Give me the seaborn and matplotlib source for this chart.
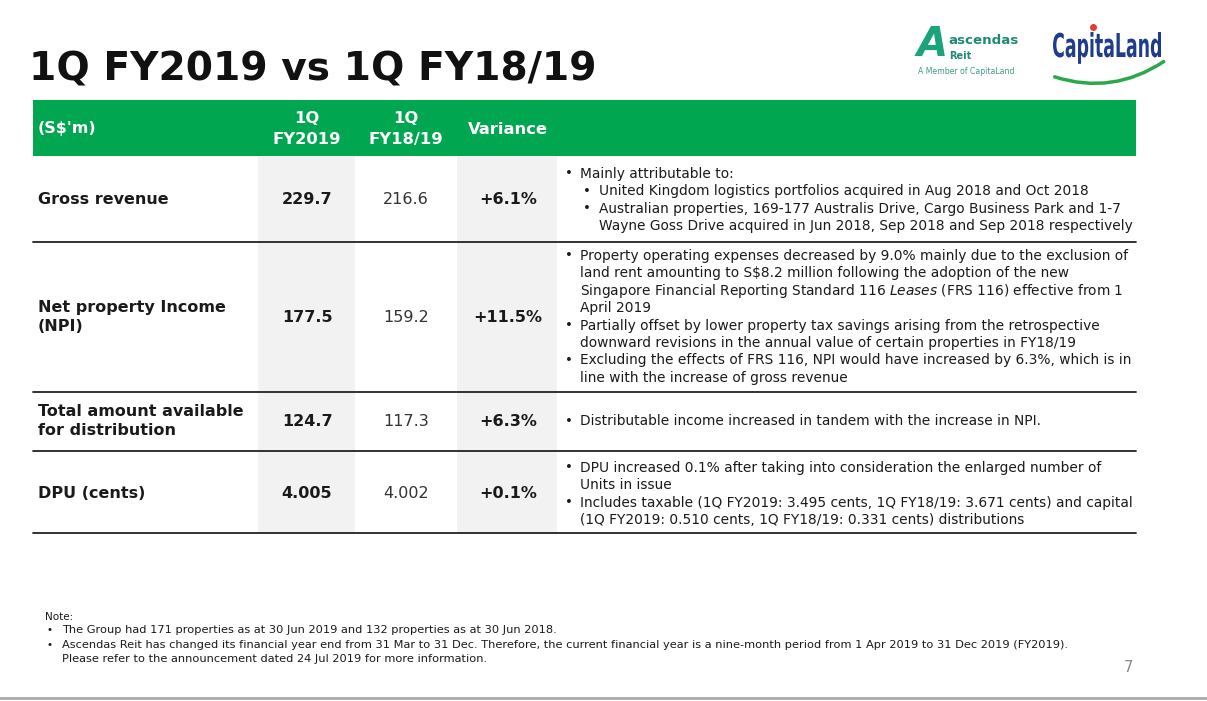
import seaborn as sns
import matplotlib.pyplot as plt
from matplotlib.patches import Rectangle, FancyArrowPatch, PathPatch
from matplotlib.textpath import TextPath
from matplotlib.font_manager import FontProperties
from matplotlib.transforms import Affine2D

# ---- table content ----
title = "1Q FY2019 vs 1Q FY18/19"
col_headers = ["(S$'m)", "1Q\nFY2019", "1Q\nFY18/19", "Variance"]
row_labels = ["Gross revenue", "Net property Income\n(NPI)",
              "Total amount available\nfor distribution", "DPU (cents)"]
fy2019 = ["229.7", "177.5", "124.7", "4.005"]
fy1819 = ["216.6", "159.2", "117.3", "4.002"]
variance = ["+6.1%", "+11.5%", "+6.3%", "+0.1%"]

# comments: (indent level, starts with bullet?, text)
comments = [
    [(0, True, "Mainly attributable to:"),
     (1, True, "United Kingdom logistics portfolios acquired in Aug 2018 and Oct 2018"),
     (1, True, "Australian properties, 169-177 Australis Drive, Cargo Business Park and 1-7"),
     (1, False, "Wayne Goss Drive acquired in Jun 2018, Sep 2018 and Sep 2018 respectively")],
    [(0, True, "Property operating expenses decreased by 9.0% mainly due to the exclusion of"),
     (0, False, "land rent amounting to S$8.2 million following the adoption of the new"),
     (0, False, "Singapore Financial Reporting Standard 116 $\\it{Leases}$ (FRS 116) effective from 1"),
     (0, False, "April 2019"),
     (0, True, "Partially offset by lower property tax savings arising from the retrospective"),
     (0, False, "downward revisions in the annual value of certain properties in FY18/19"),
     (0, True, "Excluding the effects of FRS 116, NPI would have increased by 6.3%, which is in"),
     (0, False, "line with the increase of gross revenue")],
    [(0, True, "Distributable income increased in tandem with the increase in NPI.")],
    [(0, True, "DPU increased 0.1% after taking into consideration the enlarged number of"),
     (0, False, "Units in issue"),
     (0, True, "Includes taxable (1Q FY2019: 3.495 cents, 1Q FY18/19: 3.671 cents) and capital"),
     (0, False, "(1Q FY2019: 0.510 cents, 1Q FY18/19: 0.331 cents) distributions")],
]

notes = [
    "The Group had 171 properties as at 30 Jun 2019 and 132 properties as at 30 Jun 2018.",
    "Ascendas Reit has changed its financial year end from 31 Mar to 31 Dec. Therefore, the current financial year is a nine-month period from 1 Apr 2019 to 31 Dec 2019 (FY2019).\nPlease refer to the announcement dated 24 Jul 2019 for more information.",
]

# ---- layout (pixel space) ----
W, H = 1207, 701
GREEN = "#00A650"
SHADE = "#F2F2F2"
TXT = "#1a1a1a"
row_edges = [156, 242, 392, 451, 533]
col_centers = [None, 307, 406, 508]
shade_cols = [(258, 355), (457, 557)]
left, right = 33, 1136

sns.set_theme(style="white")
plt.rcParams['font.family'] = ['DejaVu Sans']

fig = plt.figure(figsize=(W / 100, H / 100), dpi=100)
ax = fig.add_axes([0, 0, 1, 1])
ax.set_xlim(0, W)
ax.set_ylim(H, 0)
ax.axis("off")

# title
ax.text(29, 70, title, fontsize=28.2, fontweight="bold", color="#111111", va="center", ha="left")

# logos (approximation)
ax.text(917, 45, "A", fontsize=29, fontstyle="italic", fontweight="bold", color="#1BA37B", va="center", ha="left")
ax.text(948, 41, "ascendas", fontsize=9.6, fontweight="bold", color="#1E8A73", va="center", ha="left")
ax.text(949, 56, "Reit", fontsize=7, fontweight="bold", color="#1E8A73", va="center", ha="left")
ax.text(918, 72, "A Member of CapitaLand", fontsize=5.6, color="#3C9C86", va="center", ha="left")

# CapitaLand word mark squeezed into its box
tp = TextPath((0, 0), "CapitaLand", size=1, prop=FontProperties(family="DejaVu Sans", weight="bold"))
ext = tp.get_extents()
sx = 108 / ext.width
sy = 24 / 0.73
tr = Affine2D().translate(-ext.x0, 0).scale(sx, -sy).translate(1053, 57)
ax.add_patch(PathPatch(tr.transform_path(tp), color="#1F3C8C", lw=0))
ax.plot([1093], [27], "o", color="#E53935", markersize=4)
ax.add_patch(FancyArrowPatch((1052, 76), (1166, 60), connectionstyle="arc3,rad=0.25",
                             arrowstyle="-", color="#2BA84A", lw=2.5))

# header bar
ax.add_patch(Rectangle((left, 100), right - left, 56, color=GREEN, lw=0))
ax.text(38, 128, col_headers[0], fontsize=11.5, fontweight="bold", color="white", va="center", ha="left")
for cx, hdr in zip(col_centers[1:], col_headers[1:]):
    ax.text(cx, 129, hdr, fontsize=11.8, fontweight="bold", color="white", va="center", ha="center",
            linespacing=1.5)

# shaded value columns
for x0, x1 in shade_cols:
    ax.add_patch(Rectangle((x0, row_edges[0]), x1 - x0, row_edges[-1] - row_edges[0], color=SHADE, lw=0))

# row separators
for y in row_edges[1:]:
    ax.plot([left, right], [y, y], color="#222222", lw=1.3)

# rows
value_y = [200, 317, 421, 493]
for i, lbl in enumerate(row_labels):
    y = value_y[i]
    ax.text(38, y, lbl, fontsize=11.5, fontweight="bold", color=TXT, va="center", ha="left", linespacing=1.35)
    ax.text(col_centers[1], y, fy2019[i], fontsize=11.5, fontweight="bold", color=TXT, va="center", ha="center")
    ax.text(col_centers[2], y, fy1819[i], fontsize=11.5, color="#333333", va="center", ha="center")
    ax.text(col_centers[3], y, variance[i], fontsize=11.5, fontweight="bold", color=TXT, va="center", ha="center")

# comments
comment_top = [174, 256, 421, 468]
line_h = 17.4
for i, lines in enumerate(comments):
    y = comment_top[i]
    for level, bullet, txt in lines:
        bx = 569 + 18 * level
        tx = 580 + 19 * level
        if bullet:
            ax.text(bx, y, "•", fontsize=9.5, color=TXT, va="center", ha="center")
        ax.text(tx, y, txt, fontsize=9.9, color=TXT, va="center", ha="left")
        y += line_h

# notes
ax.text(45, 617, "Note:", fontsize=7.5, color=TXT, va="center", ha="left")
ny = 630
for n in notes:
    ax.text(49, ny, "•", fontsize=7.5, color=TXT, va="center", ha="center")
    for p in n.split("\n"):
        ax.text(62, ny, p, fontsize=8.2, color=TXT, va="center", ha="left")
        ny += 14.5
ax.text(1128, 667, "7", fontsize=10.5, color="#888888", va="center", ha="center")
ax.plot([0, W], [698, 698], color="#AAAAAA", lw=2)

fig.savefig("out.png", dpi=100, facecolor="white")
